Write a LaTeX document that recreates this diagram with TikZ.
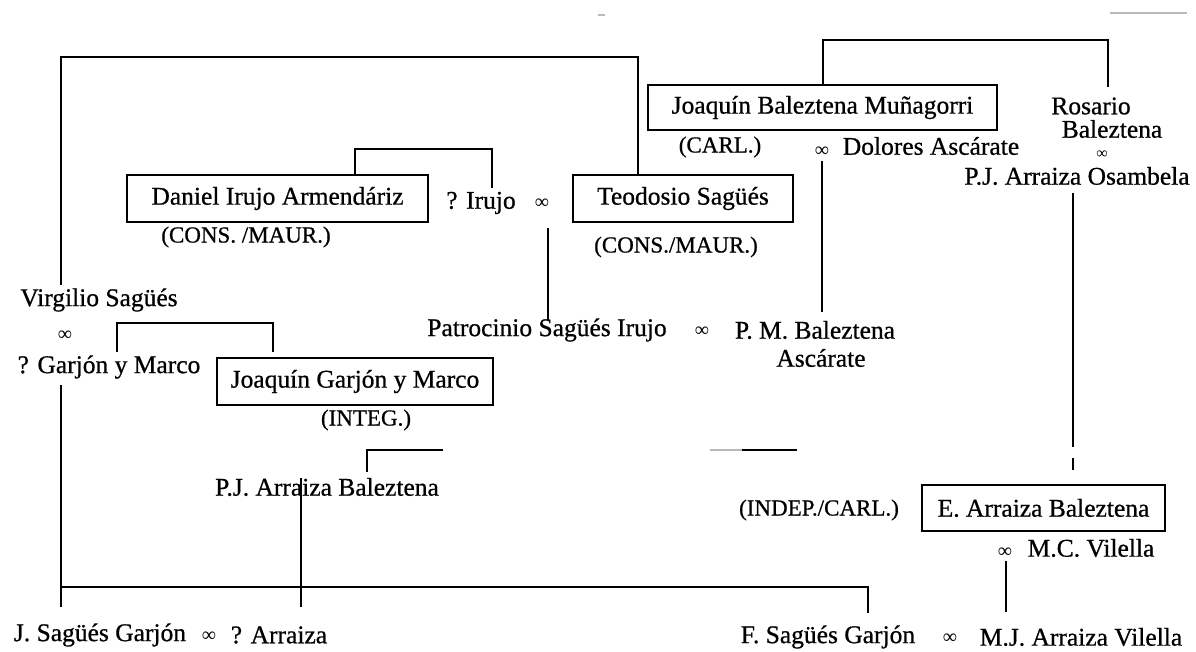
\documentclass[tikz,border=0pt]{standalone}
\usepackage{fontspec}
\setmainfont[FakeBold=0.7]{Liberation Serif}
\newfontfamily\symfont{Liberation Serif}
\begin{document}
\begin{tikzpicture}[x=1pt,y=-1pt,
  famBox/.style={draw, line width=2.4pt, inner sep=0pt, font=\fontsize{25.5}{30}\selectfont},
  nameTxt/.style={inner sep=0pt, font=\fontsize{25.5}{30}\selectfont},
  partyTxt/.style={inner sep=0pt, font=\fontsize{23}{28}\selectfont},
  marTxt/.style={inner sep=0pt, text height=7pt, text depth=0pt, font=\symfont\fontsize{20}{24}\selectfont},
  link/.style={line width=2.1pt},
  faint/.style={line width=1.4pt, gray!55}]
\useasboundingbox (0,0) rectangle (1196,652);

% boxes
\node[famBox, minimum width=349pt, minimum height=45pt] (jbm) at (822.5,107.5) {Joaquín Baleztena Muñagorri};
\node[famBox, minimum width=301pt, minimum height=47pt] (dia) at (277.5,198.5) {Daniel Irujo Armendáriz};
\node[famBox, minimum width=220pt, minimum height=47pt] (teo) at (683,198.5) {Teodosio Sagüés};
\node[famBox, minimum width=276pt, minimum height=47pt] (jgm) at (355,381.5) {Joaquín Garjón y Marco};
\node[famBox, minimum width=243pt, minimum height=46pt] (eab) at (1043.5,508) {E. Arraiza Baleztena};

% party labels
\node[partyTxt] (carl) at (720,147) {(CARL.)};
\node[partyTxt] (consA) at (246,237) {(CONS. /MAUR.)};
\node[partyTxt] (consB) at (676,247) {(CONS./MAUR.)};
\node[partyTxt] (integ) at (366,420) {(INTEG.)};
\node[partyTxt] (indep) at (819,510) {(INDEP./CARL.)};

% names
\node[nameTxt] (dol) at (931,146) {Dolores Ascárate};
\node[marTxt] (mDol) at (822,153) {∞};
\node[nameTxt] (rosA) at (1091,106) {Rosario};
\node[nameTxt] (rosB) at (1112,129) {Baleztena};
\node[marTxt, font=\symfont\fontsize{16}{18}\selectfont] (mRos) at (1102,155) {∞};
\node[nameTxt] (pjo) at (1077,176) {P.J. Arraiza Osambela};
\node[nameTxt] (irujo) at (481,203) {? Irujo};
\node[marTxt] (mIru) at (542,205) {∞};
\node[nameTxt] (virg) at (99,300) {Virgilio Sagüés};
\node[marTxt] (mVirg) at (65,337) {∞};
\node[nameTxt] (gym) at (109,367) {? Garjón y Marco};
\node[nameTxt] (patr) at (547,330) {Patrocinio Sagüés Irujo};
\node[marTxt] (mPat) at (702,333) {∞};
\node[nameTxt] (pmb) at (815,330) {P. M. Baleztena};
\node[nameTxt] (asc) at (821,358) {Ascárate};
\node[nameTxt] (pjb) at (327,487) {P.J. Arraiza Baleztena};
\node[nameTxt] (mcv) at (1091,548) {M.C. Vilella};
\node[marTxt] (mMcv) at (1005,554) {∞};
\node[nameTxt] (jsg) at (100,635) {J. Sagüés Garjón};
\node[marTxt] (mJsg) at (209,638) {∞};
\node[nameTxt] (arr) at (279,635) {? Arraiza};
\node[nameTxt] (fsg) at (828,637) {F. Sagüés Garjón};
\node[marTxt] (mFsg) at (950,640) {∞};
\node[nameTxt] (mjv) at (1081,637) {M.J. Arraiza Vilella};

% coordinates
\coordinate (vsTop) at (61,285);
\coordinate (tlCorner) at (638,57);
\coordinate (dB) at (355,149);
\coordinate (iB) at (492,149);
\coordinate (iEnd) at (492,188);
\coordinate (patA) at (548,228);
\coordinate (patB) at (548,320);
\coordinate (jbL) at (823,40);
\coordinate (jbR) at (1108,40);
\coordinate (rosEnd) at (1108,87);
\coordinate (dolA) at (822,161);
\coordinate (dolB) at (822,312);
\coordinate (osA) at (1073,193);
\coordinate (osB) at (1073,447);
\coordinate (osC) at (1073,458);
\coordinate (osD) at (1073,470);
\coordinate (gbL) at (117,323);
\coordinate (gbR) at (273,323);
\coordinate (gbLe) at (117,352);
\coordinate (gbRe) at (273,352);
\coordinate (lvA) at (61,385);
\coordinate (lvB) at (61,607);
\coordinate (botR) at (868,587);
\coordinate (botRe) at (868,613);
\coordinate (pjA) at (301,478);
\coordinate (pjB) at (301,607);
\coordinate (hkA) at (367,472);
\coordinate (hkB) at (367,450);
\coordinate (hkC) at (443,450);
\coordinate (frA) at (710,450);
\coordinate (frB) at (742,450);
\coordinate (frC) at (797,450);
\coordinate (viA) at (1006,561);
\coordinate (viB) at (1006,612);
\coordinate (artA) at (1110,13);
\coordinate (artB) at (1187,13);
\coordinate (artC) at (598,15);
\coordinate (artD) at (605,15);

% connectors
\draw[link] (vsTop) |- (tlCorner) -- (tlCorner |- teo.north);
\draw[link] (dB |- dia.north) -- (dB) -- (iB) -- (iEnd);
\draw[link] (patA) -- (patB);
\draw[link] (jbL |- jbm.north) -- (jbL) -- (jbR) -- (rosEnd);
\draw[link] (dolA) -- (dolB);
\draw[link] (osA) -- (osB);
\draw[link] (osC) -- (osD);
\draw[link] (gbLe) -- (gbL) -- (gbR) -- (gbRe);
\draw[link] (lvA) -- (lvB);
\draw[link] (lvB |- botR) -- (botR) -- (botRe);
\draw[link] (pjA) -- (pjB);
\draw[link] (hkA) -- (hkB) -- (hkC);
\draw[faint] (frA) -- (frB);
\draw[link] (frB) -- (frC);
\draw[link] (viA) -- (viB);
\draw[faint] (artA) -- (artB);
\draw[faint] (artC) -- (artD);
\end{tikzpicture}
\end{document}
